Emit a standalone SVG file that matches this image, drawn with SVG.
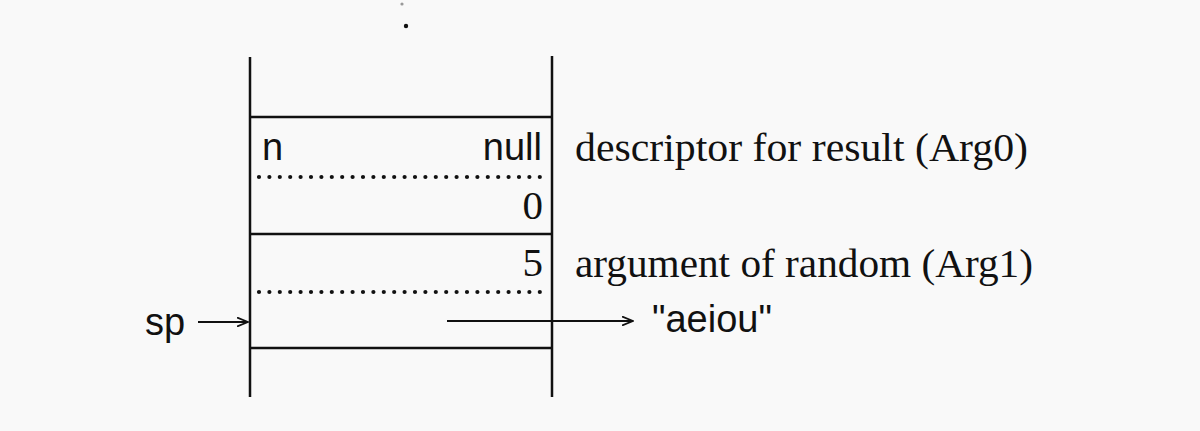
<svg xmlns="http://www.w3.org/2000/svg" width="1200" height="431" viewBox="0 0 1200 431">
<style>
.ln{stroke:#111;stroke-width:2.5;fill:none}
.dot{stroke:#111;stroke-width:4.2;stroke-linecap:round;stroke-dasharray:0 10.4;fill:none}
.sans{font-family:"Liberation Sans",Arial,sans-serif;font-size:38px;fill:#111}
.serif{font-family:"Liberation Serif","Times New Roman",serif;font-size:41px;fill:#111}
.arr{stroke:#111;stroke-width:2;fill:none}
</style>
<defs>
<marker id="open" viewBox="0 0 12 10" refX="11" refY="5" markerWidth="12" markerHeight="10" markerUnits="userSpaceOnUse" orient="auto">
<path d="M0,0.5 L11,5 L0,9.5" fill="none" stroke="#111" stroke-width="1.8"/>
</marker>
</defs>
<rect width="1200" height="431" fill="#f9f9f9"/>
<g id="ellipsis">
<circle cx="402" cy="4" r="1.6" fill="#999"/>
<circle cx="406" cy="26" r="2.2" fill="#111"/>
</g>
<g id="stack">
<line class="ln" x1="250" y1="57" x2="250" y2="397"/>
<line class="ln" x1="552" y1="56" x2="552" y2="397"/>
<line class="ln" x1="250" y1="117" x2="552" y2="117"/>
<line class="ln" x1="250" y1="234" x2="552" y2="234"/>
<line class="ln" x1="250" y1="348" x2="552" y2="348"/>
<line class="dot" x1="259" y1="177" x2="546" y2="177"/>
<line class="dot" x1="259" y1="292" x2="546" y2="292"/>
</g>
<g id="cell-arg0">
<text class="sans" x="262" y="160">n</text>
<text class="sans" x="542" y="160" text-anchor="end">null</text>
<text class="serif" x="543" y="219" text-anchor="end">0</text>
</g>
<g id="cell-arg1">
<text class="serif" x="543" y="276" text-anchor="end">5</text>
</g>
<g id="label-arg0">
<text class="serif" x="575" y="161" textLength="453" lengthAdjust="spacingAndGlyphs">descriptor for result (Arg0)</text>
</g>
<g id="label-arg1">
<text class="serif" x="575" y="277" textLength="458" lengthAdjust="spacingAndGlyphs">argument of random (Arg1)</text>
</g>
<g id="sp">
<text class="sans" x="145" y="335">sp</text>
</g>
<g id="string">
<text class="sans" x="652" y="332">"aeiou"</text>
</g>
<g id="connectors">
<line class="arr" x1="198" y1="322" x2="248" y2="322" marker-end="url(#open)"/>
<line class="arr" x1="447" y1="321" x2="633" y2="321" marker-end="url(#open)"/>
</g>
</svg>
